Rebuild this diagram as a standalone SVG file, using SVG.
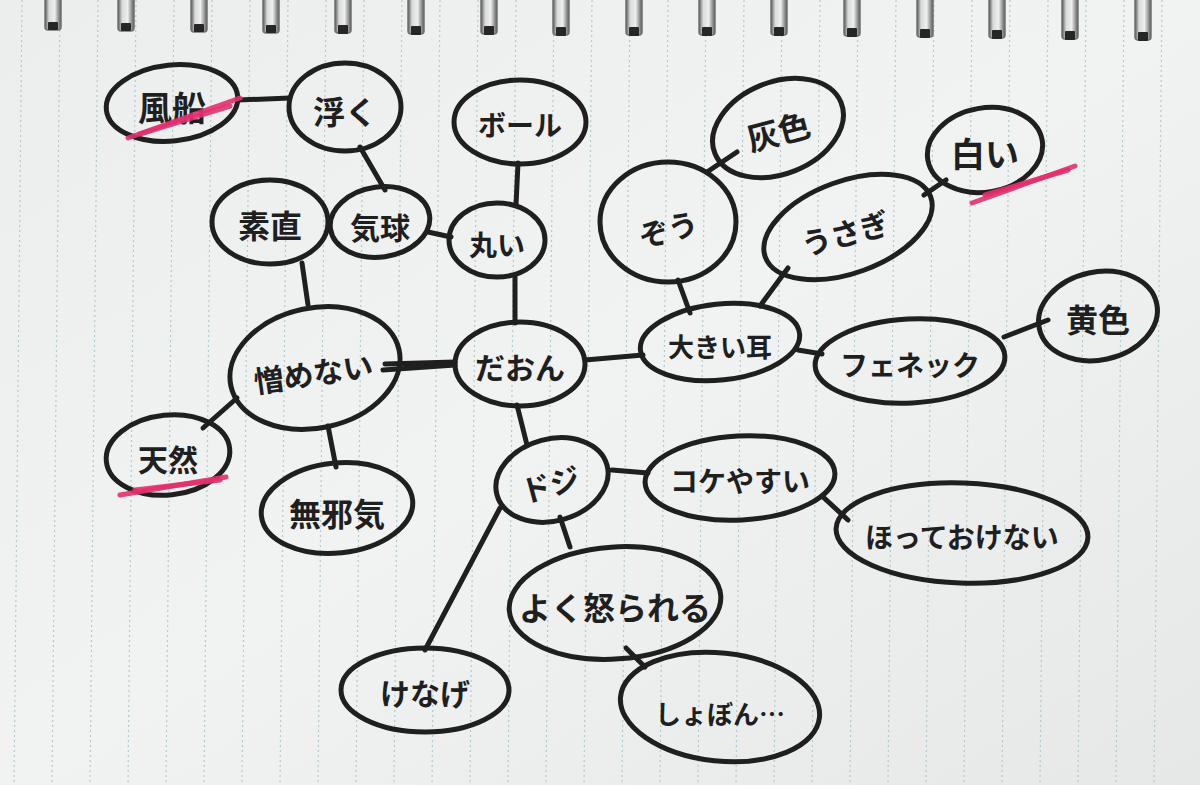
<svg xmlns="http://www.w3.org/2000/svg" width="1200" height="785" viewBox="0 0 1200 785">
<defs>
<style>
.bubble{fill:none;stroke:#1f1f1f;stroke-width:5}
.edge{stroke:#1f1f1f;stroke-width:5;stroke-linecap:round;fill:none}
.t{font-family:"Noto Sans CJK JP","Noto Sans",sans-serif;font-weight:700;fill:#1f1f1f;text-anchor:middle;dominant-baseline:central}
.hl{stroke:#e2306f;stroke-width:5;stroke-linecap:round;fill:none;opacity:0.9}
.rule{stroke:#b3c9d0;stroke-width:1.2;stroke-dasharray:2 3}
.ringl{fill:url(#coil);stroke:#6f7272;stroke-width:1.5}
.ring{fill:#262626}
</style>
<linearGradient id="paper" x1="0" y1="0" x2="1" y2="1">
<stop offset="0" stop-color="#eceeee"/>
<stop offset="0.5" stop-color="#f1f2f2"/>
<stop offset="1" stop-color="#e6e8e8"/>
</linearGradient>
<linearGradient id="coil" x1="0" y1="0" x2="1" y2="0">
<stop offset="0" stop-color="#555"/>
<stop offset="0.25" stop-color="#d8dada"/>
<stop offset="0.6" stop-color="#eeeeee"/>
<stop offset="1" stop-color="#5a5a5a"/>
</linearGradient>
</defs>
<rect width="1200" height="785" fill="url(#paper)"/>
<g id="rules">
<line class="rule" x1="22" y1="0" x2="14" y2="785"/>
<line class="rule" x1="60" y1="0" x2="52" y2="785"/>
<line class="rule" x1="98" y1="0" x2="90" y2="785"/>
<line class="rule" x1="136" y1="0" x2="128" y2="785"/>
<line class="rule" x1="174" y1="0" x2="166" y2="785"/>
<line class="rule" x1="212" y1="0" x2="204" y2="785"/>
<line class="rule" x1="250" y1="0" x2="242" y2="785"/>
<line class="rule" x1="288" y1="0" x2="280" y2="785"/>
<line class="rule" x1="326" y1="0" x2="318" y2="785"/>
<line class="rule" x1="364" y1="0" x2="356" y2="785"/>
<line class="rule" x1="402" y1="0" x2="394" y2="785"/>
<line class="rule" x1="440" y1="0" x2="432" y2="785"/>
<line class="rule" x1="478" y1="0" x2="470" y2="785"/>
<line class="rule" x1="516" y1="0" x2="508" y2="785"/>
<line class="rule" x1="554" y1="0" x2="546" y2="785"/>
<line class="rule" x1="592" y1="0" x2="584" y2="785"/>
<line class="rule" x1="630" y1="0" x2="622" y2="785"/>
<line class="rule" x1="668" y1="0" x2="660" y2="785"/>
<line class="rule" x1="706" y1="0" x2="698" y2="785"/>
<line class="rule" x1="744" y1="0" x2="736" y2="785"/>
<line class="rule" x1="782" y1="0" x2="774" y2="785"/>
<line class="rule" x1="820" y1="0" x2="812" y2="785"/>
<line class="rule" x1="858" y1="0" x2="850" y2="785"/>
<line class="rule" x1="896" y1="0" x2="888" y2="785"/>
<line class="rule" x1="934" y1="0" x2="926" y2="785"/>
<line class="rule" x1="972" y1="0" x2="964" y2="785"/>
<line class="rule" x1="1010" y1="0" x2="1002" y2="785"/>
<line class="rule" x1="1048" y1="0" x2="1040" y2="785"/>
<line class="rule" x1="1086" y1="0" x2="1078" y2="785"/>
<line class="rule" x1="1124" y1="0" x2="1116" y2="785"/>
<line class="rule" x1="1162" y1="0" x2="1154" y2="785"/>
</g>
<g id="spiral">
<rect class="ringl" x="45" y="-4" width="16" height="34" rx="3"/><rect class="ring" x="48" y="22" width="10" height="8" rx="1"/>
<rect class="ringl" x="118" y="-4" width="16" height="35" rx="3"/><rect class="ring" x="121" y="23" width="10" height="8" rx="1"/>
<rect class="ringl" x="191" y="-4" width="16" height="36" rx="3"/><rect class="ring" x="194" y="24" width="10" height="8" rx="1"/>
<rect class="ringl" x="263" y="-4" width="16" height="37" rx="3"/><rect class="ring" x="266" y="25" width="10" height="8" rx="1"/>
<rect class="ringl" x="335" y="-4" width="16" height="37" rx="3"/><rect class="ring" x="338" y="25" width="10" height="9" rx="1"/>
<rect class="ringl" x="408" y="-4" width="16" height="38" rx="3"/><rect class="ring" x="411" y="26" width="10" height="9" rx="1"/>
<rect class="ringl" x="481" y="-4" width="16" height="38" rx="3"/><rect class="ring" x="484" y="26" width="10" height="9" rx="1"/>
<rect class="ringl" x="553" y="-4" width="16" height="39" rx="3"/><rect class="ring" x="556" y="27" width="10" height="9" rx="1"/>
<rect class="ringl" x="626" y="-4" width="16" height="39" rx="3"/><rect class="ring" x="629" y="27" width="10" height="9" rx="1"/>
<rect class="ringl" x="699" y="-4" width="16" height="39" rx="3"/><rect class="ring" x="702" y="27" width="10" height="9" rx="1"/>
<rect class="ringl" x="771" y="-4" width="16" height="39" rx="3"/><rect class="ring" x="774" y="27" width="10" height="9" rx="1"/>
<rect class="ringl" x="844" y="-4" width="16" height="40" rx="3"/><rect class="ring" x="847" y="28" width="10" height="9" rx="1"/>
<rect class="ringl" x="917" y="-4" width="16" height="41" rx="3"/><rect class="ring" x="920" y="29" width="10" height="9" rx="1"/>
<rect class="ringl" x="989" y="-4" width="16" height="42" rx="3"/><rect class="ring" x="992" y="30" width="10" height="9" rx="1"/>
<rect class="ringl" x="1062" y="-4" width="16" height="43" rx="3"/><rect class="ring" x="1065" y="31" width="10" height="9" rx="1"/>
<rect class="ringl" x="1135" y="-4" width="16" height="44" rx="3"/><rect class="ring" x="1138" y="32" width="10" height="9" rx="1"/>
</g>
<g id="connectors">
<line class="edge" x1="238" y1="100" x2="290" y2="98"/>
<line class="edge" x1="360" y1="147" x2="385" y2="190"/>
<line class="edge" x1="302" y1="263" x2="308" y2="305"/>
<line class="edge" x1="428" y1="232" x2="451" y2="237"/>
<line class="edge" x1="518" y1="163" x2="516" y2="205"/>
<line class="edge" x1="515" y1="277" x2="515" y2="323"/>
<line class="edge" x1="707" y1="172" x2="737" y2="152"/>
<line class="edge" x1="678" y1="280" x2="690" y2="313"/>
<line class="edge" x1="788" y1="268" x2="760" y2="306"/>
<line class="edge" x1="924" y1="195" x2="946" y2="180"/>
<line class="edge" x1="798" y1="350" x2="822" y2="354"/>
<line class="edge" x1="1004" y1="337" x2="1048" y2="320"/>
<line class="edge" x1="585" y1="360" x2="643" y2="355"/>
<path class="edge" d="M383 370 L455 365 M385 364 L455 362" stroke-width="6"/>
<line class="edge" x1="237" y1="398" x2="203" y2="428"/>
<line class="edge" x1="328" y1="426" x2="336" y2="467"/>
<line class="edge" x1="517" y1="405" x2="527" y2="445"/>
<line class="edge" x1="612" y1="470" x2="648" y2="473"/>
<line class="edge" x1="822" y1="496" x2="848" y2="520"/>
<line class="edge" x1="560" y1="517" x2="570" y2="547"/>
<line class="edge" x1="500" y1="508" x2="425" y2="650"/>
<line class="edge" x1="626" y1="648" x2="645" y2="667"/>
</g>
<g id="n-fusen"><ellipse class="bubble" cx="172" cy="103" rx="66" ry="38" transform="rotate(-6 172 103)"/><text class="t" x="172" y="106" font-size="34">風船</text><line class="hl" x1="128" y1="138" x2="240" y2="98"/><line class="hl" x1="140" y1="134" x2="230" y2="106" stroke-width="3"/></g>
<g id="n-uku"><ellipse class="bubble" cx="345" cy="107" rx="56" ry="44"/><text class="t" x="345" y="110" font-size="32">浮く</text></g>
<g id="n-ball"><ellipse class="bubble" cx="520" cy="122" rx="66" ry="42"/><text class="t" x="520" y="124" font-size="28">ボール</text></g>
<g id="n-haiiro"><ellipse class="bubble" cx="778" cy="128" rx="68" ry="46" transform="rotate(-22 778 128)"/><text class="t" x="778" y="130" font-size="32" transform="rotate(-15 778 130)">灰色</text></g>
<g id="n-shiroi"><ellipse class="bubble" cx="985" cy="150" rx="58" ry="42" transform="rotate(-10 985 150)"/><text class="t" x="985" y="152" font-size="34">白い</text><line class="hl" x1="972" y1="203" x2="1075" y2="166"/><line class="hl" x1="985" y1="195" x2="1068" y2="170" stroke-width="3"/></g>
<g id="n-sunao"><ellipse class="bubble" cx="270" cy="222" rx="58" ry="42"/><text class="t" x="270" y="224" font-size="32">素直</text></g>
<g id="n-kikyu"><ellipse class="bubble" cx="380" cy="222" rx="50" ry="35" transform="rotate(-8 380 222)"/><text class="t" x="380" y="226" font-size="30">気球</text></g>
<g id="n-marui"><ellipse class="bubble" cx="497" cy="240" rx="48" ry="37"/><text class="t" x="497" y="244" font-size="28">丸い</text></g>
<g id="n-zou"><ellipse class="bubble" cx="668" cy="222" rx="68" ry="60"/><text class="t" x="668" y="228" font-size="30" transform="rotate(-15 668 228)">ぞう</text></g>
<g id="n-usagi"><ellipse class="bubble" cx="848" cy="227" rx="88" ry="46" transform="rotate(-20 848 227)"/><text class="t" x="845" y="232" font-size="30" transform="rotate(-15 845 232)">うさぎ</text></g>
<g id="n-nikumenai"><ellipse class="bubble" cx="315" cy="368" rx="86" ry="60" transform="rotate(-12 315 368)"/><text class="t" x="313" y="372" font-size="30" transform="rotate(-8 313 372)">憎めない</text></g>
<g id="n-daon"><ellipse class="bubble" cx="520" cy="364" rx="65" ry="42"/><text class="t" x="520" y="366" font-size="30">だおん</text></g>
<g id="n-ookiimimi"><ellipse class="bubble" cx="720" cy="342" rx="80" ry="38" transform="rotate(-6 720 342)"/><text class="t" x="720" y="345" font-size="26">大きい耳</text></g>
<g id="n-fennec"><ellipse class="bubble" cx="910" cy="361" rx="95" ry="42" transform="rotate(-3 910 361)"/><text class="t" x="910" y="364" font-size="28">フェネック</text></g>
<g id="n-kiiro"><ellipse class="bubble" cx="1098" cy="316" rx="60" ry="44" transform="rotate(-12 1098 316)"/><text class="t" x="1098" y="318" font-size="32">黄色</text></g>
<g id="n-tennen"><ellipse class="bubble" cx="168" cy="455" rx="62" ry="40" transform="rotate(-6 168 455)"/><text class="t" x="168" y="458" font-size="30">天然</text><line class="hl" x1="120" y1="495" x2="226" y2="477"/><line class="hl" x1="135" y1="490" x2="220" y2="480" stroke-width="3"/></g>
<g id="n-mujaki"><ellipse class="bubble" cx="337" cy="508" rx="76" ry="45" transform="rotate(-6 337 508)"/><text class="t" x="337" y="512" font-size="32">無邪気</text></g>
<g id="n-doji"><ellipse class="bubble" cx="552" cy="480" rx="57" ry="41" transform="rotate(-15 552 480)"/><text class="t" x="550" y="483" font-size="30" transform="rotate(-15 550 483)">ドジ</text></g>
<g id="n-kokeyasui"><ellipse class="bubble" cx="740" cy="478" rx="95" ry="42" transform="rotate(-3 740 478)"/><text class="t" x="740" y="480" font-size="28">コケやすい</text></g>
<g id="n-hotteokenai"><ellipse class="bubble" cx="962" cy="533" rx="126" ry="50" transform="rotate(2 962 533)"/><text class="t" x="962" y="536" font-size="28">ほっておけない</text></g>
<g id="n-yokuokorareru"><ellipse class="bubble" cx="615" cy="603" rx="106" ry="56" transform="rotate(-4 615 603)"/><text class="t" x="615" y="606" font-size="32">よく怒られる</text></g>
<g id="n-kenage"><ellipse class="bubble" cx="425" cy="690" rx="84" ry="42"/><text class="t" x="425" y="692" font-size="30">けなげ</text></g>
<g id="n-shobon"><ellipse class="bubble" cx="720" cy="707" rx="100" ry="54" transform="rotate(6 720 707)"/><text class="t" x="720" y="712" font-size="26">しょぼん…</text></g>
</svg>
